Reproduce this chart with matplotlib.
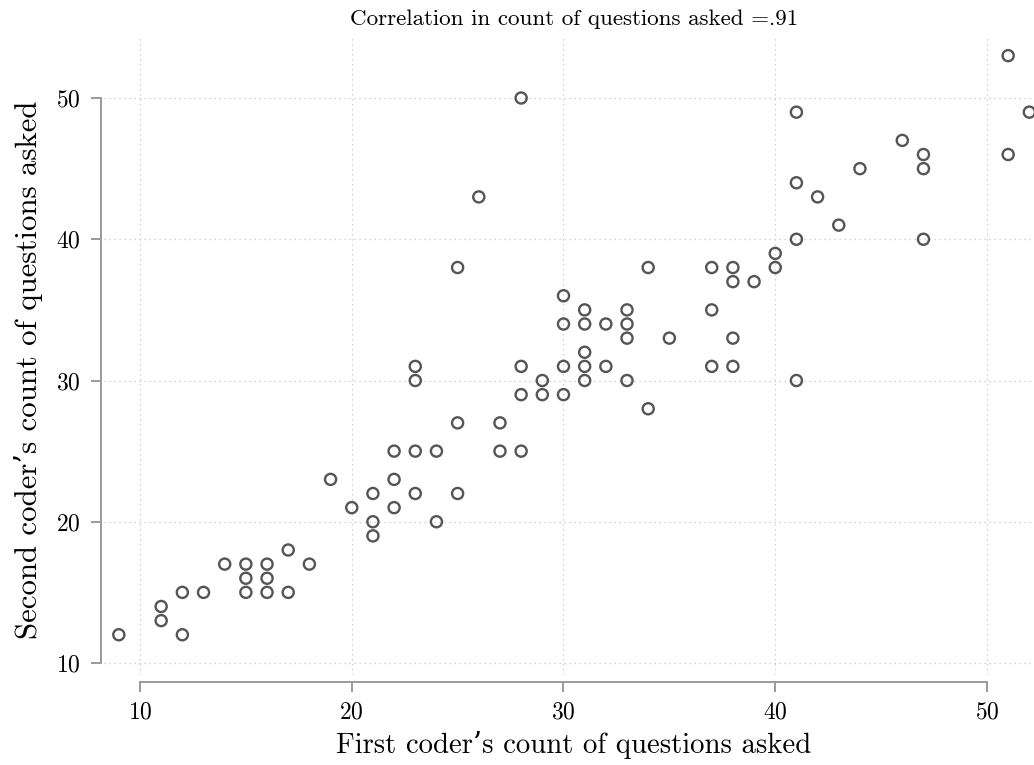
import matplotlib
matplotlib.use('Agg')
import matplotlib.pyplot as plt

# First coder's counts and the matching second coder's counts
first_coder = [9, 11, 11, 12, 12, 13, 14, 15, 15, 15, 16, 16, 16, 17, 17, 18,
               19, 20, 21, 21, 21, 22, 22, 22, 23, 23, 23, 23, 24, 24, 25, 25,
               25, 26, 27, 27, 28, 28, 28, 28, 29, 29, 30, 30, 30, 30, 31, 31,
               31, 31, 31, 32, 32, 33, 33, 33, 33, 34, 34, 35, 37, 37, 37, 38,
               38, 38, 38, 39, 40, 40, 41, 41, 41, 41, 42, 43, 44, 46, 47, 47,
               47, 51, 51, 52]
second_coder = [12, 14, 13, 15, 12, 15, 17, 17, 16, 15, 17, 16, 15, 18, 15, 17,
                23, 21, 22, 20, 19, 25, 23, 21, 31, 30, 25, 22, 25, 20, 38, 27,
                22, 43, 27, 25, 50, 31, 29, 25, 30, 29, 36, 34, 31, 29, 35, 34,
                32, 31, 30, 34, 31, 35, 34, 33, 30, 38, 28, 33, 38, 35, 31, 38,
                37, 33, 31, 37, 39, 38, 49, 44, 40, 30, 43, 41, 45, 47, 46, 45,
                40, 53, 46, 49]
ticks = [10, 20, 30, 40, 50]

TITLE = 'Correlation in count of questions asked =.91'
XLABEL = 'First coder\u2019s count of questions asked'
YLABEL = 'Second coder\u2019s count of questions asked'

GRAY = '#9a9a9a'
MARKER = '#555555'

plt.rcParams['font.family'] = ['cmr10', 'DejaVu Serif']
plt.rcParams['axes.formatter.use_mathtext'] = True

W, H = 1034, 765
fig = plt.figure(figsize=(W / 100, H / 100), dpi=100)
ax = fig.add_axes([104 / W, (H - 675) / H, (W - 104) / W, (675 - 38) / H])

ax.scatter(first_coder, second_coder, s=8.0 ** 2, facecolors='none',
           edgecolors=MARKER, linewidths=1.7, zorder=3)

ax.set_xlim(8.30, 52.22)
ax.set_ylim(9.15, 54.25)
ax.set_xticks(ticks)
ax.set_yticks(ticks)

# dotted grid like the stata scheme
ax.grid(True, color='#c4c4c4', linestyle=(0, (1, 3)), linewidth=0.9)
ax.set_axisbelow(True)

for side in ['top', 'right']:
    ax.spines[side].set_visible(False)
ax.spines['left'].set_position(('outward', 2.2))
ax.spines['bottom'].set_position(('outward', 5))
ax.spines['left'].set_bounds(10, 50)
ax.spines['bottom'].set_bounds(10, 50)
for side in ['left', 'bottom']:
    ax.spines[side].set_color(GRAY)
    ax.spines[side].set_linewidth(1.4)

ax.tick_params(axis='both', length=7.2, width=1.4, color=GRAY,
               labelsize=17)
ax.tick_params(axis='y', pad=7.5)
ax.tick_params(axis='x', pad=7)

ax.set_xlabel(XLABEL, fontsize=20.7)
ax.xaxis.set_label_coords(470 / 930, -0.088)
ax.set_ylabel(YLABEL, fontsize=22.2)
ax.yaxis.set_label_coords(-0.066, 0.479)
fig.text(574 / W, 1 - 19 / H, TITLE, fontsize=16.6,
         ha='center', va='center')

fig.savefig('out.png', dpi=100)
